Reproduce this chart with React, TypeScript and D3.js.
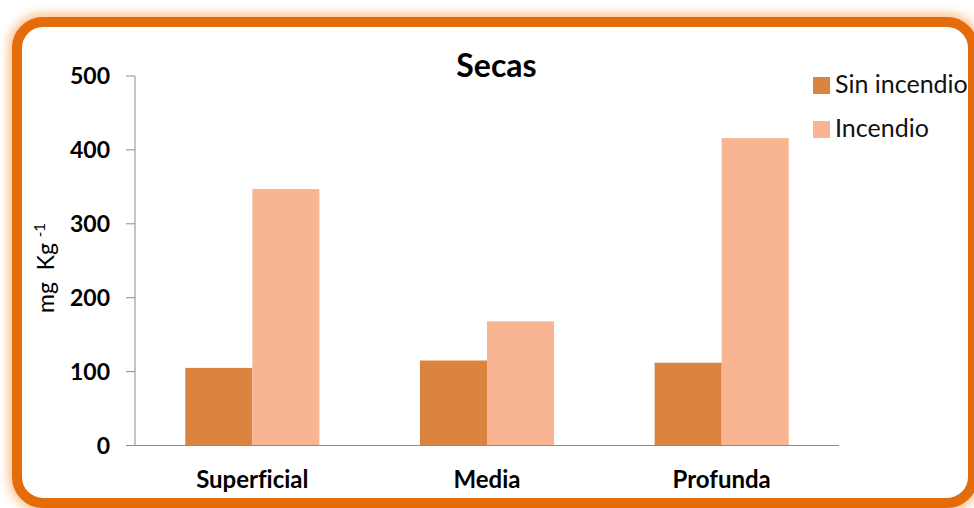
import React from "react";
import * as d3 from "d3";

const categories = ["Superficial", "Media", "Profunda"];
const seriesNames = ["Sin incendio", "Incendio"];
const sinIncendio = [105, 115, 112];
const incendio = [347, 168, 416];
const yTicks = [0, 100, 200, 300, 400, 500];
const title = "Secas";
const seriesColors = ["#DB843F", "#F9B591"];

export default function App() {
  const W = 974;
  const H = 508;
  const y = d3.scaleLinear().domain([0, 500]).range([445.5, 76]);
  const x0 = d3.scaleBand<string>().domain(categories).range([135, 839]).padding(0);
  const x1 = d3
    .scaleBand<string>()
    .domain(seriesNames)
    .range([0, x0.bandwidth()])
    .paddingInner(0)
    .paddingOuter(0.75);
  const values = [sinIncendio, incendio];
  const font = "Lato, 'Open Sans', sans-serif";
  const noLig = { fontVariantLigatures: "none" as const };

  return (
    <svg
      width={W}
      height={H}
      style={{ position: "absolute", left: 0, top: 0, background: "#fff" }}
    >
      <defs>
        <filter id="glow" x="-10%" y="-10%" width="120%" height="120%">
          <feGaussianBlur stdDeviation="5" />
        </filter>
      </defs>
      <rect
        x={17}
        y={22}
        width={956}
        height={481}
        rx={26}
        ry={26}
        fill="none"
        stroke="#F9B26E"
        strokeWidth={18}
        opacity={0.75}
        filter="url(#glow)"
      />
      <rect
        x={17}
        y={22}
        width={956}
        height={481}
        rx={26}
        ry={26}
        fill="#fff"
        stroke="#E46C0A"
        strokeWidth={10}
      />
      <text
        x={496.5}
        y={77}
        textAnchor="middle"
        fontFamily={font}
        fontWeight="bold"
        fontSize={32}
        fill="#000"
      >
        {title}
      </text>
      {/* bars */}
      {categories.map((c, ci) =>
        seriesNames.map((s, si) => (
          <rect
            key={c + s}
            x={(x0(c) as number) + (x1(s) as number)}
            y={y(values[si][ci])}
            width={x1.bandwidth()}
            height={y(0) - y(values[si][ci])}
            fill={seriesColors[si]}
          />
        ))
      )}
      {/* y axis */}
      <line x1={135} x2={135} y1={y(500)} y2={y(0)} stroke="#8C8C8C" strokeWidth={1} />
      {yTicks.map((t) => (
        <g key={t}>
          <line x1={126} x2={135} y1={y(t)} y2={y(t)} stroke="#8C8C8C" strokeWidth={1} />
          <text
            x={110}
            y={y(t) + 8}
            textAnchor="end"
            fontFamily={font}
            fontWeight="bold"
            fontSize={23}
            fill="#000"
          >
            {t}
          </text>
        </g>
      ))}
      {/* x axis */}
      <line x1={126} x2={839} y1={y(0)} y2={y(0)} stroke="#8C8C8C" strokeWidth={1} />
      {categories.map((c) => (
        <text
          key={c}
          x={(x0(c) as number) + x0.bandwidth() / 2}
          y={488}
          textAnchor="middle"
          fontFamily={font}
          fontWeight="bold"
          fontSize={24}
          fill="#000"
          style={noLig}
        >
          {c}
        </text>
      ))}
      {/* y label */}
      <text
        transform="translate(54,313) rotate(-90)"
        fontFamily={font}
        fontSize={23}
        fill="#000"
        style={{ whiteSpace: "pre" }}
      >
        <tspan>{"mg  Kg "}</tspan>
        <tspan fontSize={15} dy={-9}>-1</tspan>
      </text>
      {/* legend */}
      {seriesNames.map((s, i) => (
        <g key={s}>
          <rect x={813} y={77 + i * 44} width={17} height={17} fill={seriesColors[i]} />
          <text x={835} y={93 + i * 44} fontFamily={font} fontSize={25} fill="#111">
            {s}
          </text>
        </g>
      ))}
    </svg>
  );
}
